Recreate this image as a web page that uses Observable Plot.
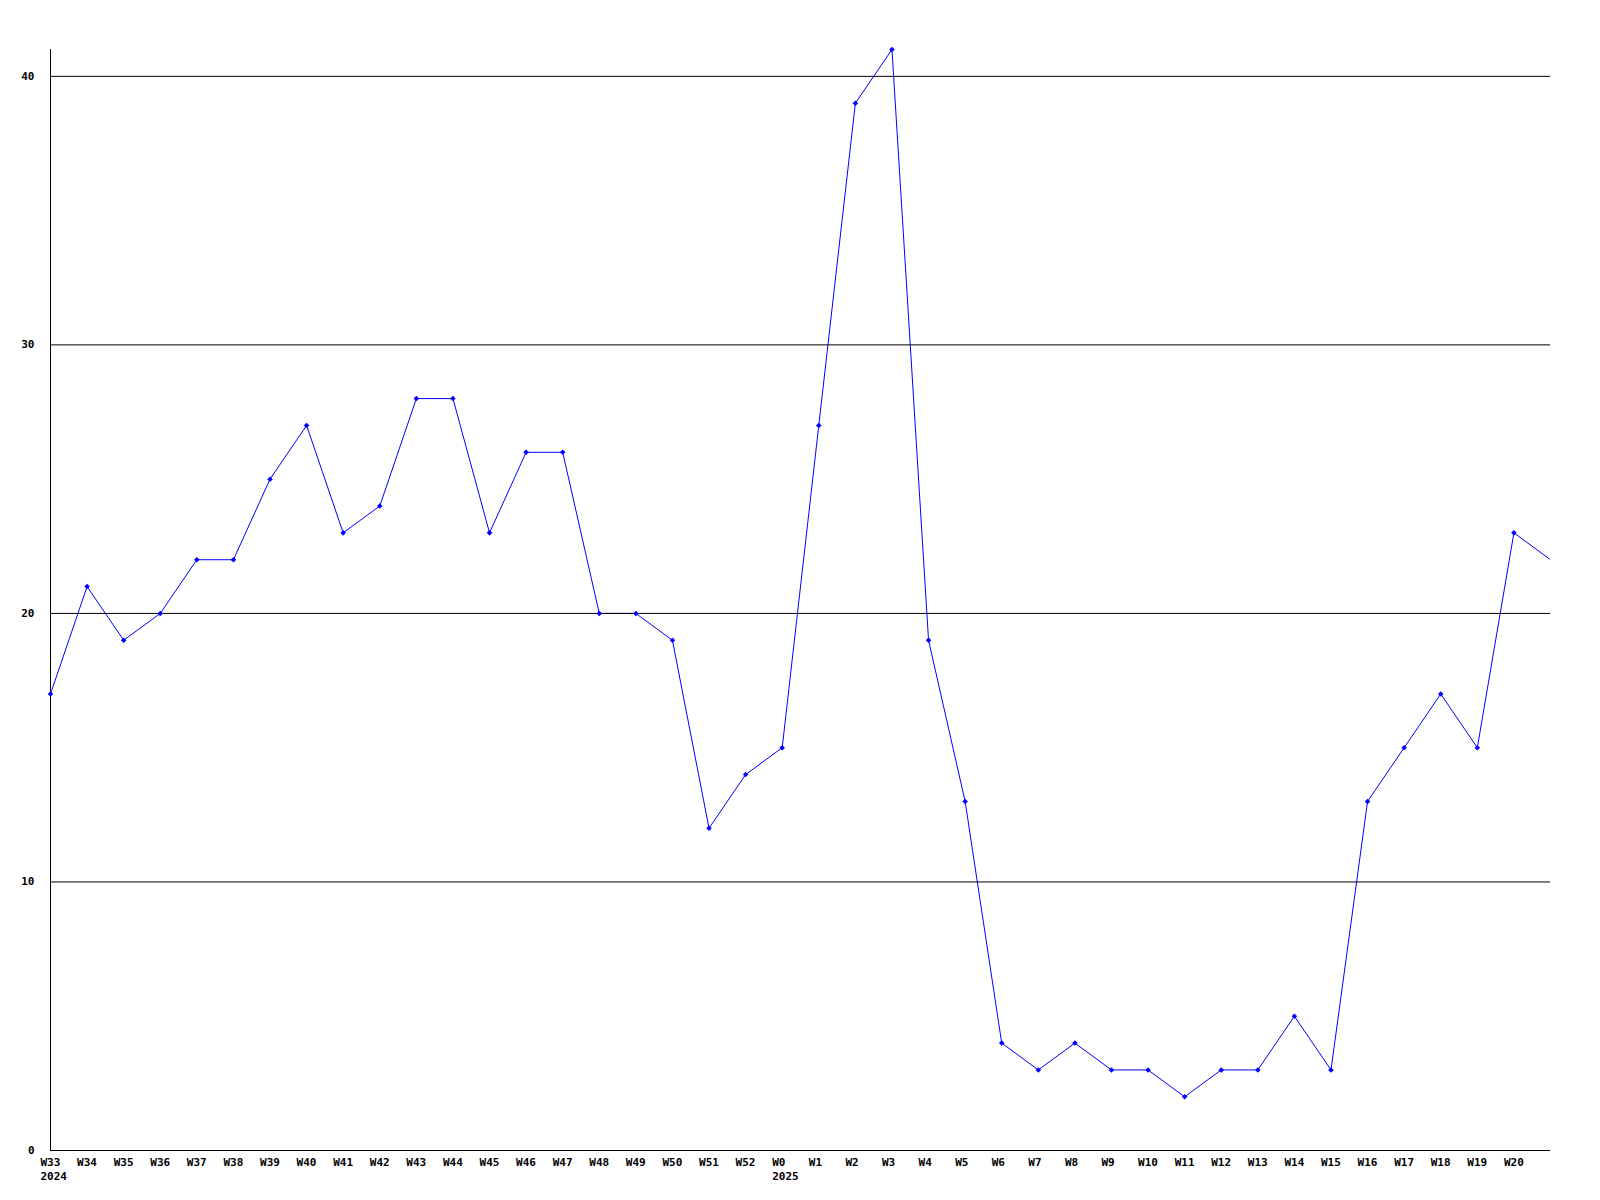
<!DOCTYPE html>
<html>
<head>
<meta charset="utf-8">
<script src="https://cdn.jsdelivr.net/npm/d3@7"></script>
<script src="https://cdn.jsdelivr.net/npm/@observablehq/plot@0.6"></script>
<style>
  html, body { margin: 0; padding: 0; background: #fff; }
  svg { display: block; }
</style>
</head>
<body>
<div id="chart"></div>
<script>
const weeks = ["W33","W34","W35","W36","W37","W38","W39","W40","W41","W42","W43","W44","W45","W46","W47","W48","W49","W50","W51","W52",
               "W0","W1","W2","W3","W4","W5","W6","W7","W8","W9","W10","W11","W12","W13","W14","W15","W16","W17","W18","W19","W20","W21"];
const values = [17,21,19,20,22,22,25,27,23,24,28,28,23,26,26,20,20,19,12,14,
                15,27,39,41,19,13,4,3,4,3,3,2,3,3,5,3,13,15,17,15,23,22];
const yearStarts = {"W33": "2024", "W0": "2025"};
const hiddenLabels = ["W21"];
const yTicks = [0, 10, 20, 30, 40];
const gridLines = [10, 20, 30, 40];

const data = weeks.map((w, i) => ({week: w, value: values[i]}));

const chart = Plot.plot({
  width: 1600,
  height: 1200,
  marginLeft: 50,
  marginRight: 50,
  marginTop: 49,
  marginBottom: 50,
  style: {fontFamily: "DejaVu Sans Mono", fontSize: "11px", fontWeight: "bold", color: "#000", background: "#fff"},
  x: {type: "point", domain: weeks, padding: 0, round: false},
  y: {domain: [0, 41]},
  marks: [
    Plot.line(data, {x: "week", y: "value", stroke: "#0000ff", strokeWidth: 1, clip: true}),
    Plot.ruleY(gridLines, {stroke: "#000", strokeWidth: 1}),
    Plot.ruleY([0], {stroke: "#000", strokeWidth: 1}),
    Plot.ruleX([weeks[0]], {y1: 0, y2: 41, stroke: "#000", strokeWidth: 1}),
    Plot.dot(data.filter(d => !hiddenLabels.includes(d.week)), {x: "week", y: "value", r: 2.5, fill: "#0000ff", symbol: "diamond2", stroke: "none"}),
    Plot.axisX({
      tickSize: 0,
      tickPadding: 5,
      textAnchor: "start",
      dx: -10,
      lineHeight: 1.3,
      fill: "#000",
      tickFormat: w => hiddenLabels.includes(w) ? "" : (yearStarts[w] ? w + "\n" + yearStarts[w] : w),
      label: null
    }),
    Plot.axisY({
      ticks: yTicks,
      tickSize: 0,
      tickPadding: 16,
      fill: "#000",
      label: null
    })
  ]
});
document.getElementById("chart").appendChild(chart);
</script>
</body>
</html>
